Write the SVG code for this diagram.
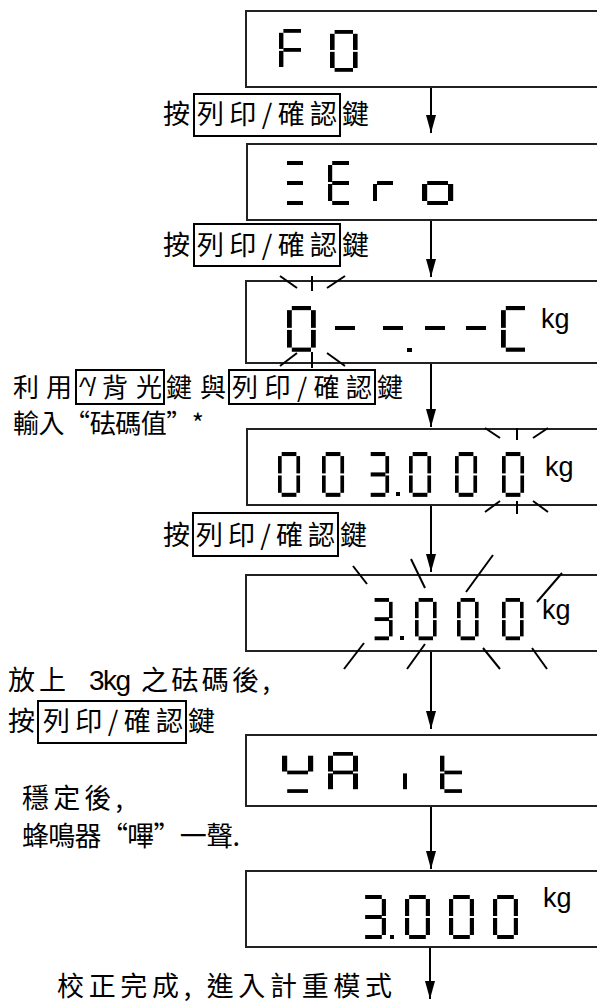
<svg xmlns="http://www.w3.org/2000/svg" xmlns:xlink="http://www.w3.org/1999/xlink" width="597" height="1006" viewBox="0 0 597 1006">
<style>
.box{fill:#fff;stroke:#222;stroke-width:2}
.kbox{fill:none;stroke:#000;stroke-width:2}
.seg{fill:#000}
.ray{stroke:#000;stroke-width:2;fill:none}
.cn{stroke:#000;stroke-width:2;fill:none}
.t{font-family:'Noto Sans CJK TC','Noto Sans CJK SC',sans-serif;font-size:27px;fill:#000}
.t3{font-family:'Noto Sans CJK TC','Noto Sans CJK SC',sans-serif;font-size:26px;fill:#000}
.l{font-family:'Liberation Sans',Arial,sans-serif;fill:#000}
.kg{font-family:'Liberation Sans',Arial,sans-serif;font-size:27px;fill:#000}
</style>
<defs>
<rect id="sa" class="seg" x="4" y="0" width="16" height="4"/>
<rect id="sb" class="seg" x="20" y="4" width="4" height="17"/>
<rect id="sc" class="seg" x="20" y="23" width="4" height="17"/>
<rect id="sd" class="seg" x="4" y="40" width="16" height="4"/>
<rect id="se" class="seg" x="0" y="23" width="4" height="17"/>
<rect id="sf" class="seg" x="0" y="4" width="4" height="17"/>
<rect id="sg" class="seg" x="4" y="20" width="16" height="4"/>
<g id="d0"><use href="#sa"/><use href="#sb"/><use href="#sc"/><use href="#sd"/><use href="#se"/><use href="#sf"/></g>
<g id="dF"><use href="#sa"/><use href="#sf"/><use href="#se"/><use href="#sg"/></g>
<g id="dZ"><use href="#sa"/><use href="#sg"/><use href="#sd"/></g>
<g id="dE"><use href="#sa"/><use href="#sf"/><use href="#sg"/><use href="#se"/><use href="#sd"/></g>
<g id="dr"><use href="#se"/><use href="#sg"/></g>
<g id="do"><use href="#sg"/><use href="#sc"/><use href="#sd"/><use href="#se"/></g>
<g id="dC"><use href="#sa"/><use href="#sf"/><use href="#se"/><use href="#sd"/></g>
<g id="d3"><use href="#sa"/><use href="#sb"/><use href="#sg"/><use href="#sc"/><use href="#sd"/></g>
<g id="dW"><use href="#sf"/><use href="#sb"/><use href="#sg"/><use href="#sd"/></g>
<g id="dA"><use href="#sa"/><use href="#sb"/><use href="#sc"/><use href="#se"/><use href="#sf"/><use href="#sg"/></g>
<g id="di"><use href="#se"/></g>
<g id="dt"><use href="#sf"/><use href="#se"/><use href="#sg"/><use href="#sd"/></g>
<marker id="ah" markerUnits="userSpaceOnUse" markerWidth="18" markerHeight="10" viewBox="0 0 18 10" refX="18" refY="5" orient="auto"><path d="M0,0 L18,5 L0,10 z" fill="#000"/></marker>
</defs>

<g id="connectors">
<line class="cn" x1="431" y1="87" x2="431" y2="133" marker-end="url(#ah)"/>
<line class="cn" x1="431" y1="220" x2="431" y2="277" marker-end="url(#ah)"/>
<line class="cn" x1="431" y1="363" x2="431" y2="427" marker-end="url(#ah)"/>
<line class="cn" x1="431" y1="505" x2="431" y2="572" marker-end="url(#ah)"/>
<line class="cn" x1="431" y1="651" x2="431" y2="729" marker-end="url(#ah)"/>
<line class="cn" x1="431" y1="806" x2="431" y2="869" marker-end="url(#ah)"/>
<line class="cn" x1="430" y1="947" x2="430" y2="999" marker-end="url(#ah)"/>
</g>

<g id="disp1">
<rect class="box" x="246" y="11" width="360" height="76"/>
<use href="#dF" transform="translate(279,29) scale(1.1,0.95)"/>
<use href="#d0" transform="translate(330,30) scale(1.15,0.95)"/>
</g>

<g id="label1">
<rect class="kbox" x="194" y="94" width="146" height="42"/>
<text class="t" x="163" y="124" textLength="27">按</text>
<text class="t" x="197" y="124" textLength="140" lengthAdjust="spacing">列印/確認</text>
<text class="t" x="342" y="124" textLength="27">鍵</text>
</g>

<g id="disp2">
<rect class="box" x="247" y="144" width="360" height="76"/>
<use href="#dZ" transform="translate(283,161)"/>
<use href="#dE" transform="translate(328,161) scale(1.05,1)"/>
<use href="#dr" transform="translate(373,161)"/>
<use href="#do" transform="translate(422,161) scale(1.3,1)"/>
</g>

<g id="label2">
<rect class="kbox" x="194" y="224" width="146" height="42"/>
<text class="t" x="163" y="255" textLength="27">按</text>
<text class="t" x="197" y="255" textLength="140" lengthAdjust="spacing">列印/確認</text>
<text class="t" x="342" y="255" textLength="27">鍵</text>
</g>

<g id="disp3">
<rect class="box" x="246" y="281" width="360" height="82"/>
<use href="#d0" transform="translate(287,306) scale(1.2,1.04)"/>
<rect class="seg" x="335" y="326" width="20" height="4"/>
<rect class="seg" x="383" y="326" width="20" height="4"/>
<rect class="seg" x="407" y="348" width="5" height="4"/>
<rect class="seg" x="425" y="326" width="20" height="4"/>
<rect class="seg" x="466" y="326" width="20" height="4"/>
<use href="#dC" transform="translate(501,306) scale(1.2,1.04)"/>
<text class="kg" x="541" y="328">kg</text>
<line class="ray" x1="280" y1="276" x2="297" y2="288"/>
<line class="ray" x1="312" y1="276" x2="312" y2="291"/>
<line class="ray" x1="345" y1="276" x2="327" y2="288"/>
<line class="ray" x1="297" y1="353" x2="280" y2="366"/>
<line class="ray" x1="312" y1="352" x2="312" y2="368"/>
<line class="ray" x1="327" y1="353" x2="345" y2="366"/>
</g>

<g id="label3">
<rect class="kbox" x="76" y="370" width="88" height="34"/>
<rect class="kbox" x="229" y="370" width="146" height="34"/>
<text class="t3" x="13" y="397" textLength="59">利用</text>
<text class="l" x="79" y="396" font-size="25" textLength="17">^/</text>
<text class="t3" x="102" y="397" textLength="60">背光</text>
<text class="t3" x="166" y="397" textLength="60">鍵與</text>
<text class="t3" x="232" y="397" textLength="140" lengthAdjust="spacing">列印/確認</text>
<text class="t3" x="377" y="397" textLength="28">鍵</text>
<text class="t3" x="13" y="433" textLength="191" lengthAdjust="spacing">輸入“砝碼值”*</text>
</g>

<g id="disp4">
<rect class="box" x="247" y="429" width="360" height="76"/>
<use href="#d0" transform="translate(278,452) scale(0.92,1.02)"/>
<use href="#d0" transform="translate(322,452) scale(0.92,1.02)"/>
<use href="#d3" transform="translate(367,452) scale(0.92,1.02)"/>
<rect class="seg" x="396" y="492" width="4" height="4"/>
<use href="#d0" transform="translate(409,452) scale(0.92,1.02)"/>
<use href="#d0" transform="translate(455,452) scale(0.92,1.02)"/>
<use href="#d0" transform="translate(502,452) scale(0.92,1.02)"/>
<text class="kg" x="545" y="476">kg</text>
<line class="ray" x1="485" y1="428" x2="500" y2="438"/>
<line class="ray" x1="517" y1="428" x2="517" y2="440"/>
<line class="ray" x1="548" y1="428" x2="533" y2="438"/>
<line class="ray" x1="485" y1="512" x2="500" y2="501"/>
<line class="ray" x1="517" y1="501" x2="517" y2="514"/>
<line class="ray" x1="548" y1="512" x2="533" y2="501"/>
</g>

<g id="label4">
<rect class="kbox" x="193" y="513" width="145" height="43"/>
<text class="t" x="163" y="545" textLength="27">按</text>
<text class="t" x="196" y="545" textLength="139" lengthAdjust="spacing">列印/確認</text>
<text class="t" x="340" y="545" textLength="27">鍵</text>
</g>

<g id="disp5">
<rect class="box" x="246" y="575" width="360" height="76"/>
<use href="#d3" transform="translate(371,598) scale(0.9,0.96)"/>
<rect class="seg" x="400" y="636" width="4" height="4"/>
<use href="#d0" transform="translate(415,598) scale(0.9,0.96)"/>
<use href="#d0" transform="translate(457,598) scale(0.9,0.96)"/>
<use href="#d0" transform="translate(502,598) scale(0.9,0.96)"/>
<text class="kg" x="542" y="619">kg</text>
<line class="ray" x1="353" y1="566" x2="367" y2="584"/>
<line class="ray" x1="411" y1="559" x2="425" y2="588"/>
<line class="ray" x1="493" y1="555" x2="466" y2="592"/>
<line class="ray" x1="562" y1="573" x2="537" y2="602"/>
<line class="ray" x1="364" y1="643" x2="344" y2="669"/>
<line class="ray" x1="425" y1="644" x2="407" y2="669"/>
<line class="ray" x1="483" y1="648" x2="500" y2="669"/>
<line class="ray" x1="532" y1="648" x2="547" y2="669"/>
</g>

<g id="label5">
<text class="t" x="8" y="690" letter-spacing="4">放上</text>
<text class="l" x="89" y="690" font-size="28" textLength="42">3kg</text>
<text class="t" x="141" y="690" textLength="129" lengthAdjust="spacing">之砝碼後,</text>
<rect class="kbox" x="38" y="701" width="148" height="42"/>
<text class="t" x="8" y="731" textLength="27">按</text>
<text class="t" x="43" y="731" textLength="140" lengthAdjust="spacing">列印/確認</text>
<text class="t" x="188" y="731" textLength="28">鍵</text>
</g>

<g id="disp6">
<rect class="box" x="246" y="735" width="360" height="71"/>
<use href="#dW" transform="translate(282,752) scale(1.3,0.93)"/>
<use href="#dA" transform="translate(328,752) scale(1.25,0.93)"/>
<use href="#di" transform="translate(403,752) scale(1,0.93)"/>
<use href="#dt" transform="translate(440,752) scale(1.1,0.93)"/>
</g>

<g id="label6">
<text class="t" x="22" y="808" textLength="101">穩定後,</text>
<text class="t" x="22" y="846" textLength="218" lengthAdjust="spacing">蜂鳴器“嗶”一聲.</text>
</g>

<g id="disp7">
<rect class="box" x="246" y="871" width="360" height="76"/>
<use href="#d3" transform="translate(361,895) scale(1.04,1)"/>
<rect class="seg" x="390" y="935" width="4" height="4"/>
<use href="#d0" transform="translate(405,895) scale(1.04,1)"/>
<use href="#d0" transform="translate(449,895) scale(1.04,1)"/>
<use href="#d0" transform="translate(493,895) scale(1.04,1)"/>
<text class="kg" x="543" y="907">kg</text>
</g>

<g id="label7">
<text class="t" x="57" y="996" textLength="335" lengthAdjust="spacing">校正完成, 進入計重模式</text>
</g>
</svg>
